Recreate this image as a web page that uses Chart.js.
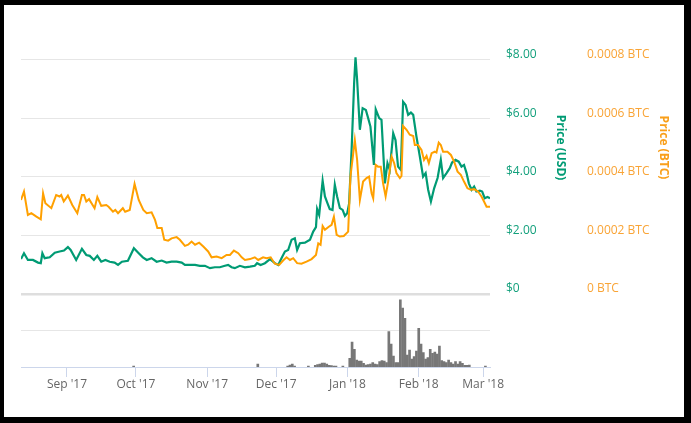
<!DOCTYPE html>
<html>
<head>
<meta charset="utf-8">
<script src="https://cdn.jsdelivr.net/npm/chart.js@4.4.1/dist/chart.umd.min.js"></script>
<style>
  html, body { margin: 0; padding: 0; background: #000; }
  #card { position: absolute; left: 4px; top: 5px; width: 680px; height: 412px; background: #fff; }
</style>
</head>
<body>
<div id="card"><canvas id="chart" width="680" height="412"></canvas></div>
<script>
// x values are days counted from 12 Aug 2017
const monthTickDays = [20, 50, 81, 111, 142, 173, 201];
const monthTickLabels = ["Sep '17", "Oct '17", "Nov '17", "Dec '17", "Jan '18", "Feb '18", "Mar '18"];

const usdDays = [0, 1.3, 3, 5.2, 7.4, 8.6, 9.3, 10.3, 12.5, 14.7,
  16.8, 18.7, 20.4, 21.6, 24, 26.5, 28.4, 29.9, 31.7, 33.2,
  34.9, 36.7, 38.6, 40.7, 42.2, 43.9, 46.5, 49.1, 51.2, 53,
  54.7, 56.8, 59, 61.2, 63.3, 65.5, 67.7, 69.9, 71.3, 73.5,
  75.7, 77.8, 80, 82.2, 84.3, 86.5, 88.7, 90.1, 91.6, 93,
  95.2, 97.4, 99.6, 101.7, 102.7, 104.2, 106.1, 108.3, 110.4, 111.9,
  113.3, 114.8, 116.2, 117.7, 119.1, 120.1, 121.3, 123.5, 125.7, 127.1,
  128.3, 128.8, 129.7, 131.2, 132.2, 133.2, 134.3, 135.5, 136.5, 137.5,
  138.7, 139.9, 140.9, 141.9, 142.7, 143.8, 144.9, 145.5, 146.2, 147.4,
  148.6, 150, 151, 152, 153.5, 154.3, 155.8, 156.8, 158.3, 159.4,
  160.4, 161.9, 162.9, 164, 165.2, 166.2, 167.3, 168.4, 169.6, 170.6,
  172, 173.5, 174.9, 176, 177.1, 178.3, 179.7, 181.2, 182.6, 183.6,
  185.1, 186.5, 187.5, 189, 190.4, 191.6, 192.7, 193.8, 194.8, 196,
  197.1, 198.1, 199.6, 200.6, 201.7, 202.9, 204];
const usdPrice = [1.19, 1.39, 1.16, 1.16, 1.07, 1.05, 1.39, 1.22, 1.25, 1.41,
  1.45, 1.48, 1.60, 1.50, 1.16, 1.54, 1.33, 1.30, 1.16, 1.30,
  1.10, 1.16, 1.10, 1.07, 0.99, 1.10, 1.13, 1.56, 1.39, 1.25,
  1.16, 1.22, 1.10, 1.14, 1.07, 1.10, 1.10, 1.07, 0.99, 0.99,
  0.99, 0.96, 0.96, 0.88, 0.91, 0.91, 0.96, 0.99, 0.91, 0.88,
  0.96, 0.91, 0.93, 0.96, 1.05, 0.99, 1.05, 1.19, 1.05, 0.99,
  1.22, 1.45, 1.50, 1.85, 1.90, 1.50, 1.73, 1.75, 1.85, 2.13,
  2.28, 2.90, 2.70, 3.87, 3.33, 3.12, 2.90, 2.87, 3.73, 3.33,
  2.93, 2.87, 2.67, 2.76, 3.08, 4.92, 7.20, 8.09, 7.32, 5.61,
  6.35, 6.29, 6.01, 5.72, 4.41, 6.31, 6.01, 5.95, 3.78, 4.47,
  4.24, 5.49, 5.26, 4.35, 4.24, 6.57, 6.46, 6.12, 6.20, 6.12,
  5.38, 4.69, 4.01, 4.13, 3.56, 3.16, 3.61, 3.96, 4.58, 3.96,
  4.13, 4.30, 4.49, 4.58, 4.52, 4.35, 4.41, 4.13, 3.78, 3.56,
  3.67, 3.50, 3.53, 3.50, 3.27, 3.31, 3.27];

const btcDays = [0, 1.3, 3, 4.5, 6.7, 8.6, 9.6, 10.6, 13.2, 15.3,
  16.8, 17.5, 18.6, 20.4, 22.3, 24.5, 26.5, 27.4, 28.4, 29.6,
  32, 33.2, 34.9, 37.1, 38.1, 40, 41, 42.2, 44.3, 45.3,
  47.3, 49.4, 51.2, 53.2, 54.7, 56.8, 58.3, 59.3, 61.2, 62.3,
  64, 65.5, 67.7, 69.1, 71.3, 72.7, 74.2, 75.7, 77.5, 79.3,
  81.4, 82.9, 85.1, 87.3, 89.4, 90.9, 92.6, 94.5, 96, 97.4,
  99.6, 101.7, 103.2, 105.3, 106.8, 108.6, 110.4, 112.3, 114, 115.5,
  117, 118.4, 120.1, 122, 124.2, 126.4, 128.3, 129.3, 130.3, 131.2,
  132.2, 133.6, 135.1, 136.1, 137.3, 138.7, 140.4, 142.3, 143.3, 145.2,
  146.2, 147.4, 148.8, 150.3, 151.4, 152.5, 153.2, 154.3, 155.3, 156.5,
  157.5, 158.6, 159.7, 161.2, 162.3, 163.3, 164.8, 165.5, 166.2, 167.7,
  169.1, 170.6, 171.3, 172.7, 174.2, 175.3, 176.4, 177.4, 178.6, 180,
  180.7, 181.7, 182.6, 183.6, 185.5, 187, 188.4, 189.9, 191.3, 192.7,
  194.2, 195.7, 197.1, 198.8, 200.3, 201.4, 202.5, 204];
const btcPrice = [0.000321, 0.000350, 0.000270, 0.000276, 0.000264, 0.000255, 0.000344, 0.000310, 0.000293, 0.000338,
  0.000333, 0.000338, 0.000316, 0.000336, 0.000304, 0.000276, 0.000338, 0.000338, 0.000316, 0.000324,
  0.000293, 0.000331, 0.000301, 0.000304, 0.000298, 0.000281, 0.000287, 0.000276, 0.000293, 0.000281,
  0.000287, 0.000376, 0.000321, 0.000287, 0.000276, 0.000279, 0.000253, 0.000225, 0.000225, 0.000185,
  0.000182, 0.000190, 0.000194, 0.000185, 0.000164, 0.000168, 0.000179, 0.000168, 0.000175, 0.000162,
  0.000145, 0.000125, 0.000128, 0.000122, 0.000133, 0.000133, 0.000148, 0.000139, 0.000125, 0.000116,
  0.000119, 0.000125, 0.000116, 0.000125, 0.000122, 0.000125, 0.000103, 0.000099, 0.000114, 0.000125,
  0.000116, 0.000122, 0.000105, 0.000103, 0.000110, 0.000119, 0.000133, 0.000173, 0.000168, 0.000232,
  0.000219, 0.000228, 0.000236, 0.000264, 0.000202, 0.000196, 0.000198, 0.000213, 0.000401, 0.000526,
  0.000458, 0.000321, 0.000384, 0.000396, 0.000401, 0.000344, 0.000327, 0.000441, 0.000435, 0.000435,
  0.000378, 0.000333, 0.000384, 0.000469, 0.000447, 0.000413, 0.000396, 0.000403, 0.000574, 0.000561,
  0.000544, 0.000540, 0.000509, 0.000509, 0.000492, 0.000458, 0.000472, 0.000447, 0.000481, 0.000486,
  0.000483, 0.000517, 0.000509, 0.000486, 0.000486, 0.000475, 0.000452, 0.000418, 0.000407, 0.000384,
  0.000361, 0.000356, 0.000358, 0.000350, 0.000333, 0.000316, 0.000298, 0.000298];

// daily volume, thousand USD
const volumeDays = [49, 103, 116, 117, 118, 119, 125, 128, 129, 130, 131, 132, 133, 134, 135, 136, 137, 140,
  143, 144, 145, 146, 147, 148, 149, 150, 151, 152, 153, 154, 155, 156, 157, 158, 159, 160,
  161, 162, 163, 164, 165, 166, 167, 168, 169, 170, 171, 172, 173, 174, 175, 176, 177, 178,
  179, 180, 181, 182, 183, 184, 185, 186, 187, 188, 189, 190, 191, 192, 193, 194, 195, 202];
const volume = [40, 120, 40, 80, 120, 40, 40, 68, 92, 120, 160, 160, 120, 68, 52, 40, 40, 40,
  348, 1000, 708, 280, 240, 240, 148, 80, 92, 120, 172, 120, 92, 212, 252, 240, 172, 1412,
  920, 440, 172, 172, 2680, 2348, 1948, 480, 680, 320, 412, 640, 1548, 920, 572, 320, 372, 708,
  548, 600, 520, 840, 252, 212, 172, 280, 172, 120, 212, 120, 212, 148, 68, 68, 80, 40];

const GREEN = '#009b74';
const ORANGE = '#ffa000';

// price panel and volume panel share one plot area; $0 line is the split
const usdMin = -2.5, usdMax = 8.8;
const volTop = 2920;
const volMax = volTop * (usdMax - usdMin) / (0 - usdMin);

const axisTitles = {
  id: 'axisTitles',
  afterDraw(chart, args, opts) {
    const ctx = chart.ctx;
    opts.items.forEach(item => {
      const scale = chart.scales[item.axis];
      ctx.save();
      ctx.translate(scale.left + item.offset, opts.centerY);
      ctx.rotate(Math.PI / 2);
      ctx.font = 'bold 12px "Open Sans"';
      ctx.fillStyle = item.color;
      ctx.textAlign = 'center';
      ctx.textBaseline = 'middle';
      ctx.fillText(item.text, 0, 0);
      ctx.restore();
    });
  }
};

Chart.defaults.font.family = '"Open Sans", sans-serif';
Chart.defaults.font.size = 12;

new Chart(document.getElementById('chart').getContext('2d'), {
  type: 'line',
  data: {
    datasets: [
      {
        label: 'Price (BTC)',
        data: btcDays.map((d, i) => ({x: d, y: btcPrice[i]})),
        yAxisID: 'btc',
        borderColor: ORANGE,
        borderWidth: 2,
        pointRadius: 0,
        tension: 0
      },
      {
        label: 'Price (USD)',
        data: usdDays.map((d, i) => ({x: d, y: usdPrice[i]})),
        yAxisID: 'usd',
        borderColor: GREEN,
        borderWidth: 2.2,
        pointRadius: 0,
        tension: 0
      },
      {
        type: 'bar',
        label: 'Volume',
        data: volumeDays.map((d, i) => ({x: d, y: volume[i]})),
        yAxisID: 'vol',
        backgroundColor: '#777777',
        barThickness: 2
      }
    ]
  },
  options: {
    responsive: false,
    animation: false,
    layout: { padding: { left: 17, top: 31.5, right: 0, bottom: 0 } },
    plugins: {
      legend: { display: false },
      tooltip: { enabled: false },
      axisTitles: {
        centerY: 142.5,
        items: [
          { axis: 'usd', text: 'Price (USD)', color: GREEN, offset: 70 },
          { axis: 'btc', text: 'Price (BTC)', color: '#f99f1a', offset: 92 }
        ]
      }
    },
    scales: {
      x: {
        type: 'linear',
        min: 0,
        max: 204,
        offset: false,
        afterBuildTicks: scale => { scale.ticks = monthTickDays.map(v => ({value: v})); },
        afterFit: scale => { scale.height = 50; },
        ticks: {
          autoSkip: false,
          maxRotation: 0,
          color: '#666666',
          padding: 0,
          callback: value => monthTickLabels[monthTickDays.indexOf(value)]
        },
        grid: { offset: false, drawOnChartArea: false, drawTicks: true, tickLength: 10, color: '#ccd6eb' },
        border: { color: '#ccd6eb', width: 1 }
      },
      vol: {
        type: 'linear',
        position: 'left',
        min: 0,
        max: volMax,
        afterBuildTicks: scale => { scale.ticks = [{value: volTop / 2}]; },
        afterFit: scale => { scale.width = 0; },
        ticks: { display: false },
        grid: { color: '#e6e6e6', drawTicks: false },
        border: { display: false }
      },
      usd: {
        type: 'linear',
        position: 'right',
        min: usdMin,
        max: usdMax,
        afterBuildTicks: scale => { scale.ticks = [0, 2, 4, 6, 8].map(v => ({value: v})); },
        afterFit: scale => { scale.width = 81; },
        ticks: {
          color: '#13a07c',
          padding: 16,
          labelOffset: -5,
          callback: v => v === 0 ? '$0' : '$' + v.toFixed(2)
        },
        grid: {
          drawTicks: false,
          color: ctx => ctx.tick && ctx.tick.value === 0 ? '#dedede' : '#e6e6e6',
          lineWidth: ctx => ctx.tick && ctx.tick.value === 0 ? 2.5 : 1
        },
        border: { display: false }
      },
      btc: {
        type: 'linear',
        position: 'right',
        min: usdMin / 10000,
        max: usdMax / 10000,
        afterBuildTicks: scale => { scale.ticks = [0, 0.0002, 0.0004, 0.0006, 0.0008].map(v => ({value: v})); },
        afterFit: scale => { scale.width = 113; },
        ticks: {
          color: '#f9a436',
          padding: 16,
          labelOffset: -5,
          callback: v => v === 0 ? '0 BTC' : v.toFixed(4) + ' BTC'
        },
        grid: { drawOnChartArea: false, drawTicks: false },
        border: { display: false }
      }
    }
  },
  plugins: [axisTitles]
});
</script>
</body>
</html>
